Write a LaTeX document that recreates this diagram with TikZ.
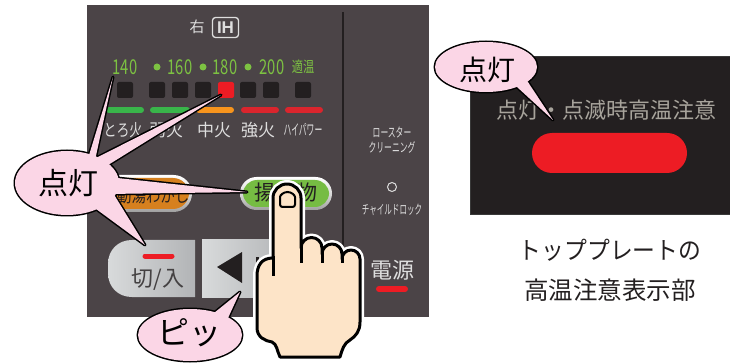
\documentclass[tikz,border=0pt]{standalone}
\usepackage{fontspec}
\setmainfont{Noto Sans CJK JP}
\newfontfamily\ihfont{Liberation Sans}
\usepackage{graphicx}
\newcommand{\setfs}[1]{\fontsize{#1}{#1}\selectfont}
\newcommand{\narrow}[2]{\scalebox{#1}[1]{#2}}

\definecolor{panelgray}{RGB}{75,68,71}
\definecolor{inkdark}{RGB}{35,31,32}
\definecolor{ledred}{RGB}{237,28,36}
\definecolor{numgreen}{RGB}{125,194,66}
\definecolor{bargreen}{RGB}{57,181,74}
\definecolor{barorange}{RGB}{247,148,29}
\definecolor{barred}{RGB}{218,37,45}
\definecolor{bubblepink}{RGB}{251,214,230}
\definecolor{skin}{RGB}{253,228,200}
\definecolor{labelgray}{RGB}{222,222,222}
\definecolor{warngray}{RGB}{168,164,156}
\definecolor{btnorange}{RGB}{214,128,30}
\definecolor{btngreen}{RGB}{118,188,67}
\definecolor{btnlight}{RGB}{216,218,219}
\definecolor{btnshadow}{RGB}{178,180,182}

% outline of the pointing hand (y grows downwards)
\newcommand{\handpath}{(273,258) .. controls (262,258) and (257,265) .. (257,276)
  -- (257,328) .. controls (257,337) and (265,341) .. (272,342)
  .. controls (277,344) and (277,351) .. (280,357)
  -- (340,357) .. controls (342,350) and (344,343) .. (350,340)
  .. controls (356,336) and (360,331) .. (360,322)
  -- (360,259) arc[start angle=360, end angle=180, radius=9]
  -- (342,254) arc[start angle=360, end angle=180, radius=10]
  -- (322,248) arc[start angle=360, end angle=180, radius=10.5]
  -- (301,198) arc[start angle=360, end angle=180, radius=14] -- cycle}

\begin{document}
\begin{tikzpicture}[x=1pt, y=-1pt,
  txt/.style={inner sep=0pt, anchor=center},
  paneltext/.style={txt, text=labelgray},
  numtext/.style={txt, text=numgreen, font=\setfs{20.5}},
  led/.style={fill=inkdark, rounded corners=2pt, minimum size=16pt, inner sep=0pt},
  ledon/.style={led, fill=ledred},
  bar/.style={line width=6pt, line cap=round},
  bubbleedge/.style={draw=black, line width=3pt, line join=round},
  bubblefill/.style={fill=bubblepink},
  rim/.style={top color=white, bottom color=gray!75, middle color=gray!30},
  bigbtn/.style={left color=btnlight, right color=btnshadow},
  handline/.style={draw=black, line width=3pt, line join=round}]

\useasboundingbox (0,0) rectangle (730,363);
\fill[white] (0,0) rectangle (730,363);

% ---------- control panel ----------
\fill[panelgray] (87,5) rectangle (429,317);
\draw[inkdark, line width=2.5] (343,12) -- (343,248);

\node[paneltext, font=\setfs{15}] (migi) at (197,27) {右};
\node[draw=labelgray, line width=1.3, rounded corners=3, minimum width=26, minimum height=20,
      inner sep=0, text=labelgray, font=\ihfont\bfseries\setfs{17}] (ih) at (225.5,27.5) {IH};

% temperature scale
\node[numtext] (t140) at (125,67) {\narrow{0.72}{140}};
\node[numtext] (t160) at (180,67) {\narrow{0.72}{160}};
\node[numtext] (t180) at (225,67) {\narrow{0.72}{180}};
\node[numtext] (t200) at (272,67) {\narrow{0.72}{200}};
\node[txt, text=numgreen, font=\setfs{15}] (tekion) at (303,67) {\narrow{0.75}{適温}};
\fill[numgreen] (157,67) circle (3.5) (203,67) circle (3.5) (248,67) circle (3.5);

% level indicators
\node[led] (led1) at (125,90) {};
\node[led] (led2) at (157,90) {};
\node[led] (led3) at (180,90) {};
\node[led] (led4) at (203,90) {};
\node[ledon] (led5) at (226,90) {};
\node[led] (led6) at (248,90) {};
\node[led] (led7) at (271,90) {};
\node[led] (led8) at (303,90) {};

\draw[bar, bargreen] (109,110) -- (141,110);
\draw[bar, bargreen] (153,110) -- (187,110);
\draw[bar, barorange] (199,110) -- (231,110);
\draw[bar, barred] (244,110) -- (276,110);
\draw[bar, barred] (288,110) -- (320,110);

\node[paneltext, font=\setfs{17}] (toro) at (123,130) {\narrow{0.76}{とろ火}};
\node[paneltext, font=\setfs{17}] (jaku) at (166,130) {弱火};
\node[paneltext, font=\setfs{17}] (chu) at (214,130) {中火};
\node[paneltext, font=\setfs{17}] (kyo) at (258,130) {強火};
\node[paneltext, font=\setfs{15}] (hipow) at (303,130) {\narrow{0.52}{ハイパワー}};

% right-hand column
\node[paneltext, font=\setfs{13}] (roaster) at (392,132) {\narrow{0.6}{ロースター}};
\node[paneltext, font=\setfs{13}] (cleaning) at (392,147) {\narrow{0.6}{クリーニング}};
\draw[labelgray, line width=1] (392,187) circle (4.5);
\node[paneltext, font=\setfs{13}] (childlock) at (392,210) {\narrow{0.58}{チャイルドロック}};
\node[paneltext, font=\setfs{22}] (dengen) at (392,270) {電源};
\draw[bar, ledred, line width=6] (379,289) -- (405,289);

% function keys
\shade[rim, rounded corners=18.5] (96,175) rectangle (192,212);
\fill[btnorange, rounded corners=16] (99,178) rectangle (189,209);
\node[txt, text=inkdark, font=\setfs{17}] (yuwakashi) at (146,196) {\narrow{0.85}{自動湯わかし}};

\shade[rim, rounded corners=16.5] (240,177) rectangle (332,210);
\fill[btngreen, rounded corners=14] (243,180) rectangle (329,207);
\node[txt, text=inkdark, font=\setfs{21}] (agemono) at (286,193) {揚げ物};

% large keys
\shade[bigbtn] (195,240) -- (132,240) .. controls (118,240) and (108,250) .. (108,264)
  -- (108,273) .. controls (108,287) and (118,297) .. (132,297) -- (195,297) -- cycle;
\draw[bar, ledred, line width=5] (145,256) -- (172,256);
\node[txt, text=inkdark!85, font=\setfs{22}] (kiriiri) at (158,280) {切/入};

\shade[bigbtn] (202,240) rectangle (290,297);
\fill[inkdark] (217,267) -- (242,252) -- (242,283) -- cycle;
\fill[inkdark] (256,257) rectangle (258.5,266);

% ---------- top plate warning display ----------
\fill[inkdark] (470,57) rectangle (731,215);
\draw[gray!45!black, line width=1] (470,57) -- (470,215) -- (731,215) (470,57) -- (731,57);
\node[txt, text=warngray, font=\setfs{22}] (warn) at (606,110) {点灯・点滅時高温注意};
\fill[ledred, rounded corners=20] (532,133) rectangle (687,173);
\node[txt, text=inkdark, font=\setfs{24.5}] (cap1) at (610,250) {\narrow{0.93}{トッププレートの}};
\node[txt, text=inkdark, font=\setfs{24.5}] (cap2) at (610,290) {高温注意表示部};

% ---------- speech bubbles ----------
\coordinate (tip140) at (113,77);
\coordinate (tipled) at (221,95);
\coordinate (tipfry) at (247,192);
\coordinate (tippow) at (145,245);
\coordinate (tipwarn) at (553,120);
\coordinate (tipkey) at (240,292);

\foreach \pass in {bubbleedge, bubblefill} {
  \path[\pass] (67,183) ellipse [x radius=52, y radius=32];
  \path[\pass] (tip140) -- (86,165) -- (94,165) -- cycle;
  \path[\pass] (tipled) -- (88,162) -- (100,170) -- cycle;
  \path[\pass] (tipfry) -- (108,177) -- (108,194) -- cycle;
  \path[\pass] (tippow) -- (92,206) -- (113,193) -- cycle;

  \path[\pass] (486,67) ellipse [x radius=51, y radius=25];
  \path[\pass] (tipwarn) -- (505,76) -- (520,70) -- cycle;

  \path[\pass] (190,335) ellipse [x radius=52, y radius=26];
  \path[\pass] (tipkey) -- (214,313) -- (228,318) -- cycle;
}
\node[txt, text=black, font=\setfs{30}] (lit1) at (68,183) {点灯};
\node[txt, text=black, font=\setfs{28}] (lit2) at (487,70) {点灯};
\node[txt, text=black, font=\setfs{32}] (beep) at (189,333) {ピッ};

% ---------- pointing hand ----------
\draw[white, line width=8, line join=round] \handpath;
\fill[skin] \handpath;
\draw[handline] \handpath;
\draw[handline] (273,256) -- (273,276);
\draw[handline] (301,246) -- (301,263);
\draw[handline] (322,252) -- (322,263);
\draw[handline] (342,257) -- (342,263);
\draw[black, line width=2, fill=skin, rounded corners=2.5] (280,207) -- (280,199.5)
  arc[start angle=180, end angle=360, radius=7.5] -- (295,207) -- cycle;

\end{tikzpicture}
\end{document}
